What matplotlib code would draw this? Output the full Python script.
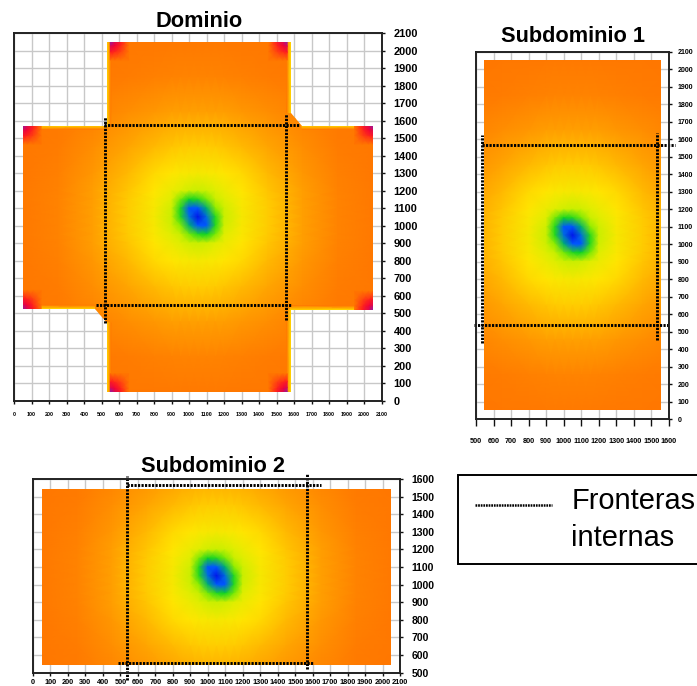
import numpy as np
import matplotlib
matplotlib.use("Agg")
import matplotlib.pyplot as plt
from matplotlib.colors import LinearSegmentedColormap
from matplotlib.patches import Polygon
from matplotlib.lines import Line2D

plt.rcParams['font.family'] = ['Liberation Sans', 'DejaVu Sans']

# ---------- data ----------
GRID_X = [50, 250, 450, 650, 800, 900, 950, 1000, 1050, 1100, 1150, 1200, 1300, 1450, 1650, 1850, 2050]
GRID_Y = [2050, 1850, 1650, 1450, 1300, 1200, 1150, 1100, 1050, 1000, 950, 900, 800, 650, 450, 250, 50]
FIELD = [
 [.81,.80,.79,.78,.775,.77,.77,.77,.77,.77,.77,.77,.775,.78,.79,.80,.81],
 [.80,.785,.77,.755,.745,.74,.735,.735,.735,.735,.735,.74,.745,.755,.77,.785,.80],
 [.79,.77,.745,.71,.685,.67,.67,.665,.665,.665,.67,.67,.685,.71,.745,.77,.79],
 [.78,.755,.71,.65,.605,.575,.565,.56,.56,.56,.565,.575,.605,.65,.71,.755,.78],
 [.775,.745,.685,.605,.53,.50,.49,.485,.48,.485,.49,.50,.53,.605,.685,.745,.775],
 [.77,.74,.67,.575,.50,.46,.43,.41,.40,.41,.43,.46,.50,.575,.67,.74,.77],
 [.77,.735,.67,.565,.49,.43,.32,.26,.27,.32,.40,.43,.49,.565,.67,.735,.77],
 [.77,.735,.665,.56,.485,.41,.27,.10,.10,.18,.33,.41,.485,.56,.665,.735,.77],
 [.77,.735,.665,.56,.48,.40,.27,.12,.02,.12,.27,.40,.48,.56,.665,.735,.77],
 [.77,.735,.665,.56,.485,.41,.33,.18,.10,.10,.27,.41,.485,.56,.665,.735,.77],
 [.77,.735,.67,.565,.49,.43,.40,.32,.27,.26,.32,.43,.49,.565,.67,.735,.77],
 [.77,.74,.67,.575,.50,.46,.43,.41,.40,.41,.43,.46,.50,.575,.67,.74,.77],
 [.775,.745,.685,.605,.53,.50,.49,.485,.48,.485,.49,.50,.53,.605,.685,.745,.775],
 [.78,.755,.71,.65,.605,.575,.565,.56,.56,.56,.565,.575,.605,.65,.71,.755,.78],
 [.79,.77,.745,.71,.685,.67,.67,.665,.665,.665,.67,.67,.685,.71,.745,.77,.79],
 [.80,.785,.77,.755,.745,.74,.735,.735,.735,.735,.735,.74,.745,.755,.77,.785,.80],
 [.81,.80,.79,.78,.775,.77,.77,.77,.77,.77,.77,.77,.775,.78,.79,.80,.81],
]
CORNER_OFFSETS = [0, 25, 60, 105]
CORNER_VALUES = [[1.0, .93, .88, .80],
                 [.93, .91, .87, .80],
                 [.88, .87, .85, .80],
                 [.80, .80, .80, .80]]
STRIP_VALUES = [.53, .78]

DOMAIN_OUTLINE = [(530, 2050), (1580, 2050), (1580, 1645), (1645, 1570), (2050, 1570),
                  (2050, 520), (1580, 520), (1580, 50), (530, 50), (530, 445), (460, 525),
                  (50, 525), (50, 1570), (530, 1570)]
DOMAIN_CORNERS = [(50, 1570, 1, -1), (50, 525, 1, 1), (2050, 1570, -1, -1), (2050, 520, -1, 1),
                  (550, 2050, 1, -1), (1560, 2050, -1, -1), (550, 50, 1, 1), (1560, 50, -1, 1)]
# strips: x0, x1, y0, y1, with the first pair of coordinates on the boundary side
DOMAIN_STRIPS = [(530, 552, 1570, 2050, 'x'), (1580, 1558, 1645, 2050, 'x'),
                 (530, 552, 50, 445, 'x'), (1580, 1558, 50, 520, 'x'),
                 (50, 530, 1570, 1550, 'y'), (1645, 2050, 1570, 1550, 'y'),
                 (50, 460, 525, 545, 'y'), (1580, 2050, 520, 542, 'y')]

SUB1_WINDOW = [(545, 50), (1555, 50), (1555, 2050), (545, 2050)]
SUB2_WINDOW = [(50, 545), (2050, 545), (2050, 1545), (50, 1545)]

# frontiers: (x0, x1), (y0, y1)
DOMAIN_FRONTIERS = [((515, 1635), (1575, 1575)), ((470, 1590), (546, 546)),
                    ((520, 520), (445, 1620)), ((1554, 1554), (460, 1640))]
SUB1_FRONTIERS = [((534, 1634), (1566, 1566)), ((490, 1600), (537, 537)),
                  ((536, 536), (434, 1622)), ((1531, 1531), (450, 1635))]
SUB2_FRONTIERS = [((537, 1650), (1566, 1566)), ((485, 1600), (555, 555)),
                  ((537, 537), (460, 1617)), ((1566, 1566), (520, 1635))]

TICKS_0_2100 = list(range(0, 2101, 100))
TICKS_500_1600 = list(range(500, 1601, 100))

TITLES = ["Dominio", "Subdominio 1", "Subdominio 2"]
LEGEND_LABEL = "Fronteras\ninternas"

# ---------- figure ----------
W, H = 697, 686
fig = plt.figure(figsize=(W / 100, H / 100), dpi=100, facecolor='white')

cmap = LinearSegmentedColormap.from_list('field', [
    (0.00, (0.00, 0.00, 0.90)), (0.10, (0.00, 0.35, 1.00)), (0.17, (0.00, 0.67, 0.47)),
    (0.25, (0.00, 0.82, 0.16)), (0.33, (0.55, 0.93, 0.00)), (0.42, (0.85, 0.94, 0.00)),
    (0.50, (1.00, 0.90, 0.00)), (0.65, (1.00, 0.65, 0.00)), (0.76, (1.00, 0.48, 0.00)),
    (0.82, (1.00, 0.45, 0.00)), (0.90, (1.00, 0.00, 0.16)), (1.00, (0.55, 0.12, 0.67))])


def make_axes(left, top, right, bottom, xlim, ylim, xticks, yticks, xfs, yfs, xlen, xpad, ypad, bold):
    ax = fig.add_axes([left / W, 1 - bottom / H, (right - left) / W, (bottom - top) / H])
    ax.set_xlim(*xlim)
    ax.set_ylim(*ylim)
    ax.set_xticks(xticks)
    ax.set_yticks(yticks)
    ax.yaxis.tick_right()
    ax.grid(True, color='#c8c8c8', lw=1.0)
    ax.set_axisbelow(True)
    ax.tick_params(axis='x', length=xlen, width=1.0, pad=xpad, labelsize=xfs, color='#111111')
    ax.tick_params(axis='y', length=2.5, width=1.0, pad=ypad, labelsize=yfs, color='#111111')
    for lab in ax.get_xticklabels() + ax.get_yticklabels():
        lab.set_fontweight('bold' if bold else 'normal')
    for s in ax.spines.values():
        s.set_linewidth(1.4)
        s.set_color('#222222')
        s.set_zorder(6)
    return ax


def draw_field(ax, outline):
    mesh = ax.pcolormesh(GRID_X, GRID_Y, np.array(FIELD), cmap=cmap, vmin=0, vmax=1,
                         shading='gouraud', zorder=2)
    clip = Polygon(outline, closed=True, transform=ax.transData)
    mesh.set_clip_path(clip)
    return clip


def draw_frontiers(ax, frontiers):
    for xs, ys in frontiers:
        ax.plot(xs, ys, color='black', lw=2.1, linestyle=(0, (0.75, 0.45)), clip_on=False, zorder=5)


ax0 = make_axes(14, 33, 381.7, 400.7, (0, 2100), (0, 2100), TICKS_0_2100, TICKS_0_2100,
                3.9, 7.9, 2.5, 5.5, 6, True)
clip0 = draw_field(ax0, DOMAIN_OUTLINE)
for x0, x1, y0, y1, side in DOMAIN_STRIPS:
    v = np.array(STRIP_VALUES)
    vals = np.vstack([v, v]) if side == 'x' else np.vstack([v, v]).T
    m = ax0.pcolormesh([x0, x1], [y0, y1], vals, cmap=cmap, vmin=0, vmax=1, shading='gouraud', zorder=3)
    m.set_clip_path(clip0)
for cx, cy, sx, sy in DOMAIN_CORNERS:
    xs = [cx + sx * o for o in CORNER_OFFSETS]
    ys = [cy + sy * o for o in CORNER_OFFSETS]
    m = ax0.pcolormesh(xs, ys, np.array(CORNER_VALUES), cmap=cmap, vmin=0, vmax=1, shading='gouraud', zorder=4)
    m.set_clip_path(clip0)
draw_frontiers(ax0, DOMAIN_FRONTIERS)

ax1 = make_axes(476, 51.7, 669, 419, (500, 1600), (0, 2100), TICKS_500_1600, TICKS_0_2100,
                5.2, 5.0, 5, 8.5, 3.6, True)
draw_field(ax1, SUB1_WINDOW)
draw_frontiers(ax1, SUB1_FRONTIERS)

ax2 = make_axes(33, 479, 400, 672.7, (0, 2100), (500, 1600), TICKS_0_2100, TICKS_500_1600,
                5.3, 7.5, 2.5, 2, 6, True)
draw_field(ax2, SUB2_WINDOW)
draw_frontiers(ax2, SUB2_FRONTIERS)

for title, (cx, cy) in zip(TITLES, [(199, 21.5), (573, 37), (213, 467)]):
    fig.text(cx / W, 1 - cy / H, title, fontsize=15.7, fontweight='bold', ha='center', va='center')

handle = Line2D([], [], color='black', lw=1.8, linestyle=(0, (0.7, 0.35)))
leg = fig.legend([handle], [LEGEND_LABEL], loc='upper left', bbox_to_anchor=(457.5 / W, 1 - 475 / H),
                 borderaxespad=0, fontsize=20.9, frameon=True, fancybox=False, edgecolor='black',
                 framealpha=1, handlelength=3.0, handletextpad=0.5, borderpad=0.42, labelspacing=0,
                 alignment='left')
leg.get_frame().set_linewidth(1.4)
for t in leg.get_texts():
    t.set_linespacing(1.39)
    t.set_multialignment('left')
line = leg.get_lines()[0]
yd = np.asarray(line.get_ydata(), dtype=float)
line.set_data(np.linspace(3.7, 59.2, len(yd)), yd + 10.8)

fig.savefig('out.png', dpi=100, facecolor='white')
